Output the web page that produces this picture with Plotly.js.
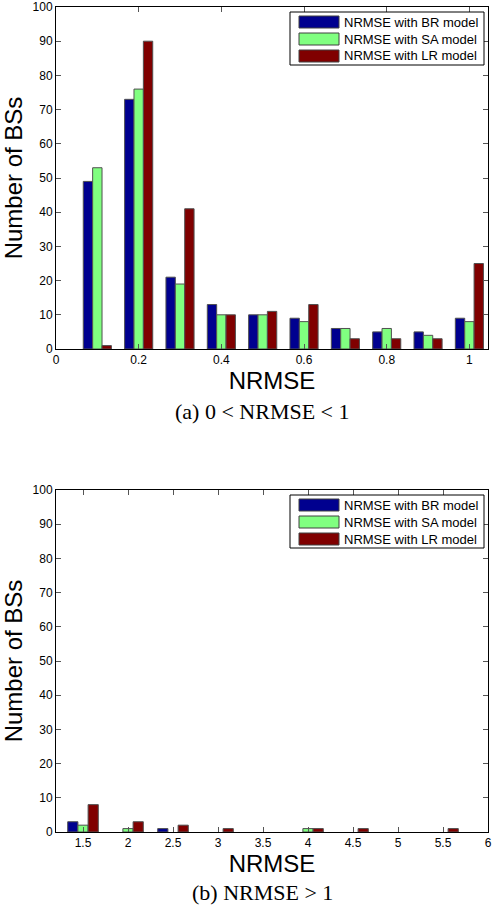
<!DOCTYPE html>
<html><head><meta charset="utf-8">
<script src="https://cdn.plot.ly/plotly-3.0.1.min.js"></script>
<style>body{margin:0;background:#fff}#c{width:494px;height:906px}</style>
</head><body><div id="c"></div>
<script>
// ---- data ----
const binsA = [0.1, 0.2, 0.3, 0.4, 0.5, 0.6, 0.7, 0.8, 0.9, 1.0];
const brA = [49, 73, 21, 13, 10, 9, 6, 5, 5, 9];
const saA = [53, 76, 19, 10, 10, 8, 6, 6, 4, 8];
const lrA = [1, 90, 41, 10, 11, 13, 3, 3, 3, 25];
const binsB = [1.5, 2, 2.5, 3, 3.5, 4, 4.5, 5, 5.5];
const brB = [3, 0, 1, 0, 0, 0, 0, 0, 0];
const saB = [2, 1, 0, 0, 0, 1, 0, 0, 0];
const lrB = [8, 3, 2, 1, 0, 1, 1, 0, 1];
const seriesNames = ['NRMSE with BR model', 'NRMSE with SA model', 'NRMSE with LR model'];
const tickValsA = [0, 0.2, 0.4, 0.6, 0.8, 1];
const tickTextA = ['0', '0.2', '0.4', '0.6', '0.8', '1'];
const tickValsB = [1.5, 2, 2.5, 3, 3.5, 4, 4.5, 5, 5.5, 6];
const tickTextB = ['1.5', '2', '2.5', '3', '3.5', '4', '4.5', '5', '5.5', '6'];
const tickValsY = [0, 10, 20, 30, 40, 50, 60, 70, 80, 90, 100];
const captionA = '(a) 0 &lt; NRMSE &lt; 1';
const captionB = '(b) NRMSE &gt; 1';
const xTitle = 'NRMSE';
const yTitle = 'Number of BSs';

// ---- style ----
const colors = ['#00008f', '#80ff80', '#800000'];
const W = 494, H = 906;
const L = 56, R = 6, T = 7, B = 74;
const plotW = W - L - R, plotH = H - T - B;
const topA = 7, botA = 349, topB = 490, botB = 832;
const fy = px => (botB - px) / plotH; // paper y

const traces = [];
const setA = [brA, saA, lrA], setB = [brB, saB, lrB];
function barTrace(x, y, i, xa, ya) {
  return {type: 'bar', x: x, y: y, name: seriesNames[i], xaxis: xa, yaxis: ya,
    marker: {color: colors[i], line: {color: '#505050', width: y.map(v => v > 0 ? 1 : 0)}},
    showlegend: false, hoverinfo: 'skip'};
}
for (let i = 0; i < 3; i++) {
  traces.push(barTrace(binsA, setA[i], i, 'x', 'y'));
  traces.push(barTrace(binsB, setB[i], i, 'x2', 'y2'));
}

const fontT = 'Liberation Sans, Arial, Helvetica, sans-serif';
function xax(range, tv, tt, anchor) {
  return {range: range, tickvals: tv, ticktext: tt, anchor: anchor, ticks: 'inside', ticklen: 5,
    tickcolor: '#555', showline: true, linecolor: '#000', linewidth: 1, mirror: 'ticks',
    showgrid: false, zeroline: false, tickfont: {family: fontT, size: 12, color: '#000'},
    ticklabeloverflow: 'allow',
    title: {text: xTitle, font: {family: fontT, size: 24, color: '#000'}, standoff: 4}, fixedrange: true};
}
function yax(domain, anchor) {
  return {range: [0, 100], domain: domain, anchor: anchor, tickvals: tickValsY, ticks: 'inside', ticklen: 5,
    tickcolor: '#555', showline: true, linecolor: '#000', linewidth: 1, mirror: 'ticks',
    showgrid: false, zeroline: false, tickfont: {family: fontT, size: 12, color: '#000'},
    ticklabeloverflow: 'allow',
    title: {text: yTitle, font: {family: fontT, size: 24, color: '#000'}, standoff: 17}, fixedrange: true};
}

const shapes = [], annotations = [];
function legend(xref, yref, top, bot) {
  const dx = px => (px - L) / plotW;
  const dy = px => (bot - px) / (bot - top);
  const b = top;
  shapes.push({type: 'rect', xref: xref, yref: yref, x0: dx(290), x1: dx(484), y0: dy(b + 5), y1: dy(b + 58),
    line: {color: '#000', width: 1}, fillcolor: '#fff', layer: 'above'});
  const cy = [b + 15, b + 32, b + 49];
  for (let i = 0; i < 3; i++) {
    shapes.push({type: 'rect', xref: xref, yref: yref, x0: dx(299), x1: dx(339), y0: dy(cy[i] + 6), y1: dy(cy[i] - 6),
      line: {color: '#404040', width: 1}, fillcolor: colors[i], layer: 'above'});
    annotations.push({xref: xref, yref: yref, x: dx(342), y: dy(cy[i]), xanchor: 'left', yanchor: 'middle',
      text: seriesNames[i], showarrow: false, font: {family: fontT, size: 13, color: '#000'}});
  }
}
legend('x domain', 'y domain', topA, botA);
legend('x2 domain', 'y2 domain', topB, botB);

annotations.push({xref: 'paper', yref: 'paper', x: (262 - L) / plotW, y: fy(411), xanchor: 'center', yanchor: 'middle',
  text: captionA, showarrow: false, font: {family: 'Liberation Serif, Times New Roman, serif', size: 22, color: '#000'}});
annotations.push({xref: 'paper', yref: 'paper', x: (262 - L) / plotW, y: fy(892), xanchor: 'center', yanchor: 'middle',
  text: captionB, showarrow: false, font: {family: 'Liberation Serif, Times New Roman, serif', size: 22, color: '#000'}});

const layout = {
  width: W, height: H, margin: {l: L, r: R, t: T, b: B}, paper_bgcolor: '#fff', plot_bgcolor: '#fff',
  barmode: 'group', bargap: 0.32, bargroupgap: 0,
  xaxis: xax([0, 1.045], tickValsA, tickTextA, 'y'),
  yaxis: yax([fy(botA), 1], 'x'),
  xaxis2: xax([1.2, 6], tickValsB, tickTextB, 'y2'),
  yaxis2: yax([0, fy(topB)], 'x2'),
  shapes: shapes, annotations: annotations, showlegend: false
};
Plotly.newPlot('c', traces, layout, {staticPlot: true, displayModeBar: false});
</script></body></html>
